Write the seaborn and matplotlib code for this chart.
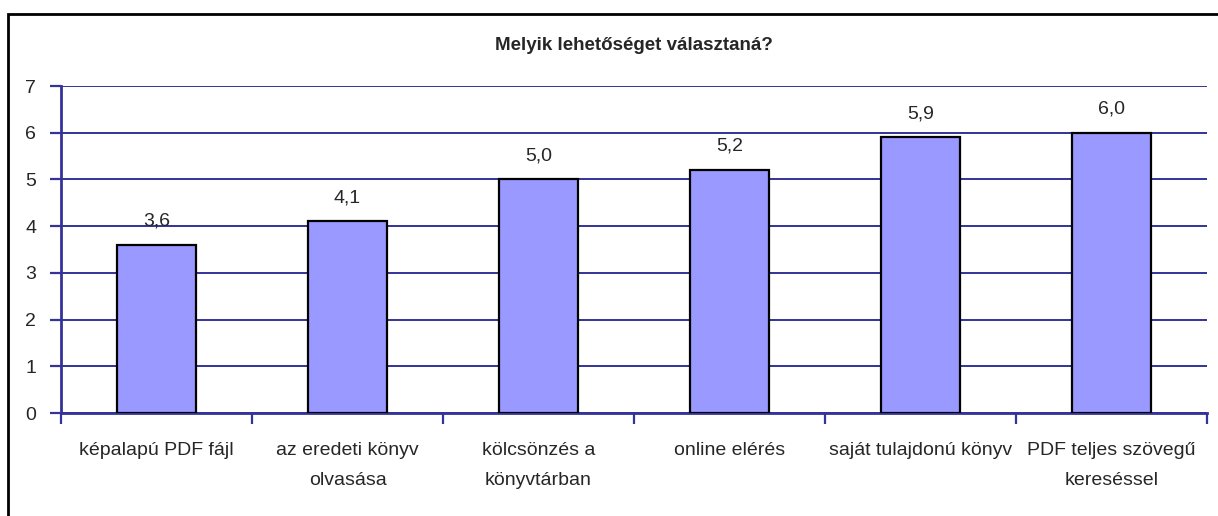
import pandas as pd
import numpy as np
import matplotlib.pyplot as plt
import seaborn as sns
from matplotlib.patches import Rectangle

categories = ['képalapú PDF fájl', 'az eredeti könyv\nolvasása', 'kölcsönzés a\nkönyvtárban',
              'online elérés', 'saját tulajdonú könyv', 'PDF teljes szövegű\nkereséssel']
values = [3.6, 4.1, 5.0, 5.2, 5.9, 6.0]
value_labels = ['3,6', '4,1', '5,0', '5,2', '5,9', '6,0']
title = 'Melyik lehetőséget választaná?'

sns.set_style('white')
plt.rcParams['font.family'] = ['Liberation Sans', 'DejaVu Sans']

grid_col = '#333399'
bar_col = '#9999FF'

df = pd.DataFrame({'cat': categories, 'val': values})

fig = plt.figure(figsize=(12.18, 5.16), dpi=100)
ax = fig.add_axes([61/1218, 1 - 413/516, (1207 - 61)/1218, (413 - 86)/516])

sns.barplot(data=df, x='cat', y='val', color=bar_col, saturation=1, width=0.41,
            edgecolor='black', linewidth=1.6, ax=ax, zorder=3)

ax.set_ylim(0, 7)
ax.set_xlim(-0.5, 5.5)
ax.set_yticks(range(0, 8))
ax.yaxis.grid(True, color=grid_col, lw=1.4, zorder=0)
ax.set_axisbelow(True)

for s in ['top', 'right']:
    ax.spines[s].set_visible(False)
for s in ['left', 'bottom']:
    ax.spines[s].set_color(grid_col)
    ax.spines[s].set_linewidth(2)

ax.tick_params(axis='y', direction='out', length=8, width=1.6, color=grid_col,
               labelsize=14, pad=10, left=True)
ax.set_xticks(range(len(categories)))
ax.set_xticklabels(categories, fontsize=14, linespacing=2.0)
ax.tick_params(axis='x', which='major', length=0, pad=21)
ax.set_xticks(np.arange(-0.5, len(categories)), minor=True)
ax.tick_params(axis='x', which='minor', direction='out', length=8, width=1.6,
               color=grid_col, bottom=True)
ax.set_xlabel('')
ax.set_ylabel('')

for i, (v, lab) in enumerate(zip(values, value_labels)):
    ax.annotate(lab, (i, v), xytext=(0, 11), textcoords='offset points',
                ha='center', va='bottom', fontsize=14)

fig.text(0.5 * (61 + 1207) / 1218, 1 - 45/516, title, ha='center', va='center',
         fontsize=13.5, fontweight='bold')

fig.patches.append(Rectangle((8/1218, -0.1), 1.2, 1 - 14/516 + 0.1, transform=fig.transFigure,
                             fill=False, edgecolor='black', lw=2, figure=fig))

fig.savefig('out.png', dpi=100)
